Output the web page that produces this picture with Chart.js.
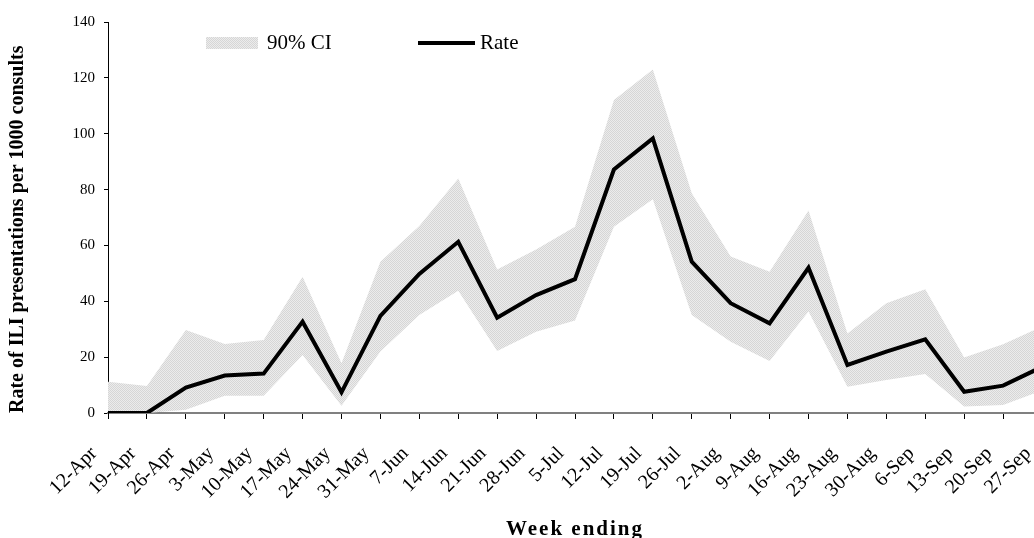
<!DOCTYPE html>
<html>
<head>
<meta charset="utf-8">
<title>ILI presentations</title>
<script src="https://cdn.jsdelivr.net/npm/chart.js@4"></script>
<style>
  html, body { margin: 0; padding: 0; background: #ffffff; }
  #frame { width: 1034px; height: 538px; overflow: hidden; position: relative; }
  #plot { width: 1042px; height: 538px; position: relative; }
</style>
</head>
<body>
<div id="frame"><div id="plot"><canvas id="chart"></canvas></div></div>
<script>
// Weekly ILI rate per 1000 consults, with 90% confidence interval
const weeks = ['12-Apr', '19-Apr', '26-Apr', '3-May', '10-May', '17-May', '24-May', '31-May',
  '7-Jun', '14-Jun', '21-Jun', '28-Jun', '5-Jul', '12-Jul', '19-Jul', '26-Jul',
  '2-Aug', '9-Aug', '16-Aug', '23-Aug', '30-Aug', '6-Sep', '13-Sep', '20-Sep', '27-Sep'];

const rate = [0, 0, 9.1, 13.4, 14.1, 32.7, 7.4, 34.8, 49.8, 61.3, 34.1, 42.2, 47.9,
  87.2, 98.3, 54.2, 39.3, 32.1, 52.0, 17.2, 22.0, 26.4, 7.6, 9.8, 16.5];

const ciUpper = [11.2, 9.7, 29.7, 24.7, 26.1, 48.8, 17.8, 54.2, 67.0, 84.0, 51.4, 58.5, 66.7,
  112.1, 123.0, 78.7, 56.0, 50.6, 72.5, 28.5, 39.3, 44.3, 19.9, 24.6, 31.0];

const ciLower = [0, 0, 1.2, 6.2, 6.2, 20.8, 2.6, 22.0, 35.1, 43.8, 22.2, 29.1, 33.1,
  66.7, 76.5, 35.1, 25.5, 18.6, 36.3, 9.4, 11.8, 14.0, 2.3, 2.9, 8.1];

const yTickValues = [0, 20, 40, 60, 80, 100, 120, 140];

const SERIF = "'Liberation Serif', 'Times New Roman', serif";

// fine grey dither used for the confidence band
function ditherPattern() {
  const c = document.createElement('canvas');
  c.width = 2; c.height = 2;
  const g = c.getContext('2d');
  g.fillStyle = '#ececec';
  g.fillRect(0, 0, 2, 2);
  g.fillStyle = '#d6d6d6';
  g.fillRect(0, 0, 1, 1);
  g.fillRect(1, 1, 1, 1);
  return g.createPattern(c, 'repeat');
}
const bandFill = ditherPattern();

// legend drawn inside the plot: shaded swatch + line sample
const inlineLegend = {
  id: 'inlineLegend',
  afterDraw(chart, args, opts) {
    const { ctx, chartArea } = chart;
    const line = chart.data.datasets[0];
    const band = chart.data.datasets[1];
    const cy = chartArea.top + opts.offsetY;
    ctx.save();
    ctx.font = opts.fontSize + 'px ' + SERIF;
    ctx.textBaseline = 'middle';
    ctx.textAlign = 'left';

    let x = chartArea.left + opts.offsetX;
    ctx.fillStyle = band.backgroundColor;
    ctx.fillRect(x, cy - opts.swatchHeight / 2, opts.swatchWidth, opts.swatchHeight);
    ctx.fillStyle = '#000';
    ctx.fillText(band.label, x + opts.swatchWidth + opts.textGap, cy);

    x += opts.itemStep;
    ctx.strokeStyle = line.borderColor;
    ctx.lineWidth = line.borderWidth;
    ctx.beginPath();
    ctx.moveTo(x, cy);
    ctx.lineTo(x + opts.lineLength, cy);
    ctx.stroke();
    ctx.fillStyle = '#000';
    ctx.fillText(line.label, x + opts.lineLength + 5, cy);
    ctx.restore();
  }
};

// letter-spaced axis title on the x scale
const spacedTitle = {
  id: 'spacedTitle',
  afterLayout(chart) {
    const sc = chart.scales.x;
    if (sc.__spaced) return;
    const base = sc.drawTitle.bind(sc);
    sc.drawTitle = function () {
      const c = this.ctx;
      const prev = c.letterSpacing;
      c.letterSpacing = '2px';
      base();
      c.letterSpacing = prev;
    };
    sc.__spaced = true;
  }
};

new Chart(document.getElementById('chart'), {
  type: 'line',
  data: {
    labels: weeks,
    datasets: [
      {
        label: 'Rate',
        data: rate,
        borderColor: '#000000',
        borderWidth: 4,
        pointRadius: 0,
        tension: 0,
        fill: false
      },
      {
        label: '90% CI',
        data: ciUpper,
        borderWidth: 0,
        borderColor: 'rgba(0,0,0,0)',
        backgroundColor: bandFill,
        pointRadius: 0,
        tension: 0,
        fill: '+1'
      },
      {
        label: 'lower',
        data: ciLower,
        borderWidth: 0,
        borderColor: 'rgba(0,0,0,0)',
        pointRadius: 0,
        tension: 0,
        fill: false
      }
    ]
  },
  options: {
    responsive: true,
    maintainAspectRatio: false,
    animation: false,
    events: [],
    layout: { padding: { top: 22, right: 0, left: 0, bottom: 0 } },
    plugins: {
      legend: { display: false },
      tooltip: { enabled: false },
      inlineLegend: {
        offsetX: 98, offsetY: 21, fontSize: 21,
        swatchWidth: 52, swatchHeight: 12, textGap: 9,
        itemStep: 212, lineLength: 57
      }
    },
    scales: {
      x: {
        offset: false,
        border: { display: true, color: '#808080', width: 2 },
        grid: { display: true, drawOnChartArea: false, drawTicks: true, tickLength: 6, color: '#000000', lineWidth: 1 },
        ticks: {
          autoSkip: false, minRotation: 45, maxRotation: 45,
          labelOffset: -14, padding: 23, color: '#000000',
          font: { family: SERIF, size: 20 }
        },
        title: {
          display: true, text: 'Week ending', color: '#000000',
          font: { family: SERIF, size: 21, weight: 'bold', lineHeight: 0.8 },
          padding: { top: 0, bottom: 0 }
        },
        afterFit(scale) {
          scale.height = 125;
          scale.paddingLeft = 0;
          scale.paddingRight = 0;
        }
      },
      y: {
        min: 0, max: 140,
        afterBuildTicks(scale) {
          scale.ticks = yTickValues.map(v => ({ value: v }));
        },
        border: { display: true, color: '#000000', width: 1 },
        grid: { display: true, drawOnChartArea: false, drawTicks: true, tickLength: 4, color: '#000000', lineWidth: 1 },
        ticks: { padding: 9, color: '#000000', font: { family: SERIF, size: 15 } },
        title: {
          display: true, align: 'start', text: 'Rate of ILI presentations per 1000 consults', color: '#000000',
          font: { family: SERIF, size: 20, weight: 'bold' },
          padding: { top: 6, bottom: 0 }
        },
        afterFit(scale) {
          scale.width = 108;
        }
      }
    }
  },
  plugins: [inlineLegend, spacedTitle]
});
</script>
</body>
</html>
